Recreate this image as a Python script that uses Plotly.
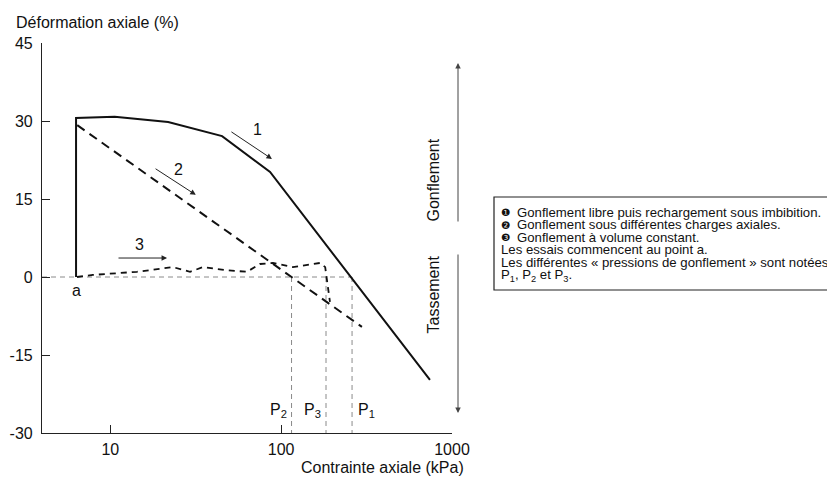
import numpy as np
import plotly.graph_objects as go

# ---- data ----
# Curve 1: free swelling then reloading
c1_x = [6.3, 6.3, 10.6, 21.8, 45.1, 86.1, 743]
c1_y = [0.0, 30.6, 30.8, 29.8, 27.1, 20.2, -19.8]
# Curve 2: swelling under different axial loads
c2_x = [6.4, 297]
c2_y = [29.2, -9.6]
# Curve 3: swelling at constant volume
c3_x = [6.38, 7.9, 14.3, 23.3, 29.3, 34.8, 48.2, 63.1, 75.2, 89.5, 117, 169, 181, 185, 193]
c3_y = [0.0, 0.4, 1.0, 1.9, 1.0, 1.9, 1.3, 1.0, 2.5, 2.7, 1.9, 2.7, 1.9, -0.6, -4.8]
# Swelling pressures
p_names = ["P<sub>2</sub>", "P<sub>3</sub>", "P<sub>1</sub>"]
p_vals = [115, 183, 260]

x_ticks = [10, 100, 1000]
x_ticktext = ["10", "100", "1000"]
y_ticks = [-30, -15, 0, 15, 30, 45]
y_ticktext = ["-30", "-15", "0", "15", "30", "45"]
x_range_log = [0.6, 3.0]
y_range = [-30, 45]

legend_lines = [
    ("❶", "Gonflement libre puis rechargement sous imbibition."),
    ("❷", "Gonflement sous différentes charges axiales."),
    ("❸", "Gonflement à volume constant."),
    ("", "Les essais commencent au point a."),
    ("", "Les différentes « pressions de gonflement » sont notées"),
    ("", "P<sub>1</sub>, P<sub>2</sub> et P<sub>3</sub>."),
]

FONT = "Liberation Sans, Arial, DejaVu Sans, sans-serif"
OFF = 8  # default page body margin
W, H = 835 - OFF, 478 - OFF
# plot area in page pixels: x 42..452, y 43..433
X0, X1, Y0, Y1 = 42, 452, 43, 433
L, T = X0 - OFF, Y0 - OFF
R, B = W - (X1 - OFF), H - (Y1 - OFF)
PW, PH = X1 - X0, Y1 - Y0


def px(xp):
    return (xp - X0) / PW


def py(yp):
    return (Y1 - yp) / PH


fig = go.Figure()

# reference (gray dashed) lines
xmin = 10 ** x_range_log[0]
fig.add_trace(go.Scatter(x=[xmin, max(p_vals)], y=[0, 0], mode="lines",
                         line=dict(color="#8a8a8a", width=1, dash="5px,4px"),
                         hoverinfo="skip", showlegend=False))
for pv in p_vals:
    fig.add_trace(go.Scatter(x=[pv, pv], y=[0, y_range[0]], mode="lines",
                             line=dict(color="#8a8a8a", width=1, dash="5px,4px"),
                             hoverinfo="skip", showlegend=False))

fig.add_trace(go.Scatter(x=c1_x, y=c1_y, mode="lines",
                         line=dict(color="#111", width=2), showlegend=False))
fig.add_trace(go.Scatter(x=c2_x, y=c2_y, mode="lines",
                         line=dict(color="#111", width=2, dash="9px,6px"), showlegend=False))
fig.add_trace(go.Scatter(x=c3_x, y=c3_y, mode="lines",
                         line=dict(color="#111", width=1.8, dash="6px,5px"), showlegend=False))

ann = []
# curve arrows (tail log-x, tail y, head log-x, head y, label log-x, label y, text)
curve_arrows = [
    (1.70, 28.1, 1.946, 22.7, 1.86, 28.3, "1"),
    (1.256, 21.0, 1.50, 15.8, 1.40, 20.6, "2"),
    (1.039, 3.65, 1.332, 3.65, 1.168, 6.3, "3"),
]
for tx, ty, hx, hy, lx, ly, t in curve_arrows:
    ann.append(dict(x=hx, y=hy, ax=tx, ay=ty, xref="x", yref="y", axref="x", ayref="y",
                    text="", showarrow=True, arrowhead=2, arrowsize=1.1, arrowwidth=1,
                    arrowcolor="#222"))
    ann.append(dict(x=lx, y=ly, xref="x", yref="y", text=t, showarrow=False,
                    font=dict(size=16, color="#111", family=FONT)))

# point a
ann.append(dict(x=np.log10(c1_x[0]), y=0, xref="x", yref="y", text="a", showarrow=False,
                yshift=-13, font=dict(size=16, color="#111", family=FONT)))

# P labels
for name, pv in zip(p_names, p_vals):
    right = name != "P<sub>1</sub>"
    ann.append(dict(x=np.log10(pv), y=-25.6, xref="x", yref="y", text=name, showarrow=False,
                    xanchor="right" if right else "left", xshift=-3 if right else 4,
                    font=dict(size=16, color="#111", family=FONT)))

# axis titles
ann.append(dict(x=px(14), y=py(23), xref="paper", yref="paper", text="Déformation axiale (%)",
                showarrow=False, xanchor="left", yanchor="middle",
                font=dict(size=16, color="#111", family=FONT)))
ann.append(dict(x=px(466), y=py(468), xref="paper", yref="paper", text="Contrainte axiale (kPa)",
                showarrow=False, xanchor="right", yanchor="middle",
                font=dict(size=16, color="#111", family=FONT)))

# side arrows
ann.append(dict(x=px(458), y=py(63), xref="paper", yref="paper", ax=0, ay=160, axref="pixel",
                ayref="pixel", text="", showarrow=True, arrowhead=2, arrowsize=1.1,
                arrowwidth=1, arrowcolor="#444"))
ann.append(dict(x=px(458), y=py(413), xref="paper", yref="paper", ax=0, ay=-160, axref="pixel",
                ayref="pixel", text="", showarrow=True, arrowhead=2, arrowsize=1.1,
                arrowwidth=1, arrowcolor="#444"))
ann.append(dict(x=px(443), y=py(180), xref="paper", yref="paper", text="Gonflement",
                textangle=-90, showarrow=False, font=dict(size=16, color="#111", family=FONT)))
ann.append(dict(x=px(443), y=py(295), xref="paper", yref="paper", text="Tassement",
                textangle=-90, showarrow=False, font=dict(size=16, color="#111", family=FONT)))

# legend text
for i, (b, t) in enumerate(legend_lines):
    yy = 212 + 12.6 * i
    if b:
        ann.append(dict(x=px(499), y=py(yy), xref="paper", yref="paper", text=b, showarrow=False,
                        xanchor="left", yanchor="middle",
                        font=dict(size=10.5, color="#111", family="DejaVu Sans")))
        xs = 515
    else:
        xs = 499
    ann.append(dict(x=px(xs), y=py(yy), xref="paper", yref="paper", text=t, showarrow=False,
                    xanchor="left", yanchor="middle",
                    font=dict(size=13.2, color="#111", family=FONT)))

shapes = [dict(type="rect", xref="paper", yref="paper", x0=px(494), x1=px(842),
               y0=py(290), y1=py(197), line=dict(color="#222", width=1.2))]

fig.update_layout(
    width=W, height=H, margin=dict(l=L, r=R, t=T, b=B, pad=0, autoexpand=False),
    paper_bgcolor="white", plot_bgcolor="white",
    annotations=ann, shapes=shapes, showlegend=False,
    font=dict(family=FONT, size=16, color="#111"),
)
fig.update_xaxes(type="log", range=x_range_log, tickvals=x_ticks, ticktext=x_ticktext,
                 ticks="inside", ticklen=8, tickcolor="#222", showline=True, linecolor="#222",
                 linewidth=1.2, showgrid=False, zeroline=False, ticklabelstandoff=2,
                 automargin=False, tickfont=dict(size=16, family=FONT, color="#111"))
fig.update_yaxes(range=y_range, tickvals=y_ticks, ticktext=y_ticktext, ticks="inside", ticklen=8,
                 tickcolor="#222", showline=True, linecolor="#222", linewidth=1.2, showgrid=False,
                 zeroline=False, ticklabelstandoff=5, automargin=False,
                 tickfont=dict(size=16, family=FONT, color="#111"))

fig.write_html("out.html")
